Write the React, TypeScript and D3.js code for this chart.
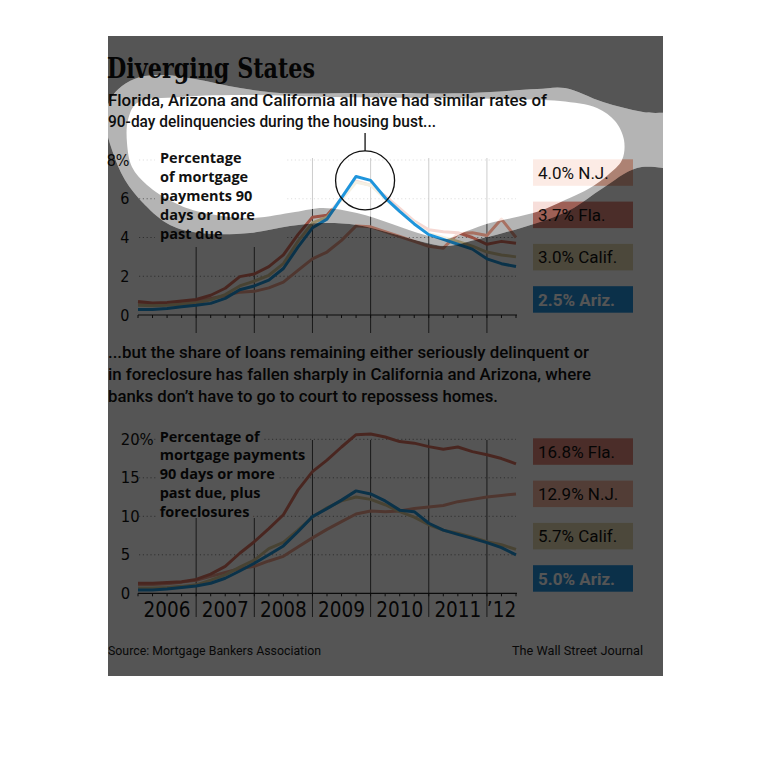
import React from "react";
import * as d3 from "d3";

// quarterly observations, Q1 2006 .. Q3 2012
const quarters = [
  "Q1 2006", "Q2 2006", "Q3 2006", "Q4 2006",
  "Q1 2007", "Q2 2007", "Q3 2007", "Q4 2007",
  "Q1 2008", "Q2 2008", "Q3 2008", "Q4 2008",
  "Q1 2009", "Q2 2009", "Q3 2009", "Q4 2009",
  "Q1 2010", "Q2 2010", "Q3 2010", "Q4 2010",
  "Q1 2011", "Q2 2011", "Q3 2011", "Q4 2011",
  "Q1 2012", "Q2 2012", "Q3 2012",
];

// 90 days or more past due (%)
const njTop = [0.6, 0.57, 0.6, 0.65, 0.72, 0.85, 1.0, 1.18, 1.22, 1.4, 1.7, 2.3, 2.9, 3.25, 3.85, 4.6, 4.55, 4.3, 4.05, 3.8, 3.55, 3.45, 4.2, 4.25, 4.1, 4.95, 4.0];
const flaTop = [0.7, 0.62, 0.64, 0.72, 0.8, 1.02, 1.38, 1.98, 2.12, 2.5, 3.1, 4.15, 5.05, 5.15, 6.0, 6.9, 6.7, 6.15, 5.5, 4.85, 4.4, 4.3, 4.25, 4.0, 3.65, 3.8, 3.7];
const calTop = [0.5, 0.48, 0.5, 0.55, 0.62, 0.78, 1.05, 1.5, 1.75, 2.05, 2.65, 3.8, 4.75, 5.05, 5.95, 6.85, 6.7, 6.0, 5.35, 4.75, 4.2, 4.0, 3.8, 3.55, 3.25, 3.1, 3.0];
const azTop = [0.29, 0.29, 0.34, 0.43, 0.5, 0.6, 0.86, 1.3, 1.5, 1.8, 2.4, 3.5, 4.5, 4.95, 6.05, 7.15, 6.95, 6.05, 5.35, 4.7, 4.15, 3.9, 3.65, 3.4, 2.9, 2.65, 2.5];

// 90 days or more past due plus foreclosures (%)
const flaBot = [1.3, 1.3, 1.4, 1.5, 1.8, 2.5, 3.5, 5.2, 6.7, 8.4, 10.2, 13.4, 15.8, 17.3, 19.0, 20.6, 20.7, 20.3, 19.7, 19.5, 19.05, 18.7, 19.0, 18.4, 18.0, 17.5, 16.8];
const njBot = [1.1, 1.15, 1.25, 1.45, 1.7, 2.2, 2.7, 3.2, 3.5, 4.2, 4.8, 6.0, 7.2, 8.3, 9.3, 10.3, 10.7, 10.6, 10.7, 11.0, 11.2, 11.4, 11.9, 12.2, 12.5, 12.7, 12.9];
const calBot = [0.65, 0.68, 0.75, 0.9, 1.1, 1.7, 2.4, 3.4, 4.3, 5.8, 6.6, 8.2, 9.9, 11.1, 12.0, 12.5, 12.2, 11.5, 10.6, 9.9, 8.9, 8.2, 7.8, 7.3, 6.7, 6.3, 5.7];
const azBot = [0.43, 0.43, 0.56, 0.74, 0.95, 1.3, 1.95, 2.9, 3.9, 5.0, 6.15, 8.0, 9.96, 11.0, 12.1, 13.3, 12.9, 12.0, 10.8, 10.6, 9.1, 8.2, 7.66, 7.14, 6.58, 5.93, 5.0];

const topTicks = [0, 2, 4, 6, 8];
const topTickLabels = ["0", "2", "4", "6", "8%"];
const botTicks = [0, 5, 10, 15, 20];
const botTickLabels = ["0", "5", "10", "15", "20%"];

const yearStarts = ["Q1 2007", "Q1 2008", "Q1 2009", "Q1 2010", "Q1 2011", "Q1 2012"];
const yearLabels = ["2006", "2007", "2008", "2009", "2010", "2011", "\u201912"];
const yearLabelAt = ["Q3 2006", "Q3 2007", "Q3 2008", "Q3 2009", "Q3 2010", "Q3 2011", "Q2 2012"];

const topLegend = ["4.0% N.J.", "3.7% Fla.", "3.0% Calif.", "2.5% Ariz."];
const botLegend = ["16.8% Fla.", "12.9% N.J.", "5.7% Calif.", "5.0% Ariz."];

const topNote = ["Percentage", "of mortgage", "payments 90", "days or more", "past due"];
const botNote = ["Percentage of", "mortgage payments", "90 days or more", "past due, plus", "foreclosures"];

const colors = {
  nj: "#eea18c",
  njBox: "#f5b8a3",
  fla: "#dc7462",
  flaBox: "#e0887b",
  cal: "#d9c999",
  calBox: "#e3d7b2",
  az: "#1f95dc",
  azBox: "#2290dc",
};

// freehand highlight drawn over the top of the graphic
const whiteShape: [number, number][] = [
  [137, 103], [180, 97], [250, 95], [330, 97], [420, 98], [500, 99], [560, 101], [597, 108],
  [615, 121], [624, 140], [622, 160], [608, 175], [590, 188], [565, 200], [540, 211], [512, 218],
  [490, 223], [467, 231], [447, 239], [425, 235], [392, 224], [357, 213], [323, 208], [295, 212],
  [250, 218], [200, 212], [173, 202], [147, 185], [132, 167], [127, 143], [128, 120],
];
const haloShape: [number, number][] = [
  [110, 100], [122, 86], [140, 77], [165, 75], [195, 79], [240, 88], [280, 93], [360, 93],
  [470, 93], [537, 89], [565, 88], [603, 102], [643, 112], [690, 118], [690, 165], [637, 168],
  [603, 188], [570, 210], [537, 223], [503, 233], [475, 240], [447, 246], [423, 242], [390, 233],
  [357, 225], [323, 223], [290, 226], [250, 233], [200, 233], [170, 225], [145, 205], [125, 180],
  [112, 150], [106, 125],
];

const sans = "Roboto, 'Noto Sans', sans-serif";
const narrow = "'Liberation Sans Narrow', 'DejaVu Sans Condensed', Roboto, sans-serif";
const bold = "'Open Sans', 'Noto Sans', sans-serif";

const App = () => {
  const panel = { x: 108, y: 36, w: 555, h: 640 };
  const x = d3.scalePoint<string>().domain(quarters).range([138, 516]);
  const yTop = d3.scaleLinear().domain([0, 8]).range([315, 160]);
  const yBot = d3.scaleLinear().domain([0, 20]).range([593.3, 439.3]);

  const lineOf = (y: d3.ScaleLinear<number, number>) =>
    d3.line<number>().x((_, i) => x(quarters[i]) as number).y((d) => y(d));

  const blob = d3.line().curve(d3.curveCatmullRomClosed.alpha(0.5));
  const whitePath = blob(whiteShape) as string;
  const haloPath = blob(haloShape) as string;
  const rectPath = `M${panel.x},${panel.y}H${panel.x + panel.w}V${panel.y + panel.h}H${panel.x}Z`;

  const x1 = 516;

  const topSeries = [
    { v: njTop, c: colors.nj },
    { v: flaTop, c: colors.fla },
    { v: calTop, c: colors.cal },
  ];
  const botSeries = [
    { v: njBot, c: colors.nj },
    { v: calBot, c: colors.cal },
    { v: flaBot, c: colors.fla },
    { v: azBot, c: colors.az },
  ];
  const topBoxes = [colors.njBox, colors.flaBox, colors.calBox, colors.azBox];
  const botBoxes = [colors.flaBox, colors.njBox, colors.calBox, colors.azBox];

  const axis = (y: d3.ScaleLinear<number, number>, tall: number, short: number, bottom: number) => (
    <g>
      {yearStarts.map((q, i) => (
        <line key={q} x1={x(q)} x2={x(q)} y1={i < 2 ? short : tall} y2={bottom}
          stroke="#4a4a4a" strokeWidth={1} />
      ))}
      <line x1={138} x2={x1 + 1} y1={y(0)} y2={y(0)} stroke="#222" strokeWidth={1.2} />
      {quarters.map((q) => (
        <line key={q} x1={x(q)} x2={x(q)} y1={y(0)} y2={y(0) + 3} stroke="#222" strokeWidth={1} />
      ))}
    </g>
  );

  const legend = (labels: string[], fills: string[], top: number) =>
    labels.map((t, i) => (
      <rect key={t} x={533} y={top + i * 42.3} width={100} height={26.5} fill={fills[i]} />
    ));

  const legendText = (labels: string[], top: number) =>
    labels.map((t, i) => {
      const isAz = i === 3;
      return (
        <text key={t} x={538} y={top + i * 42.3 + 19.5} fontFamily={sans} fontSize={17}
          fontWeight={isAz ? 700 : 400} fill={isAz ? "#fff" : "#111"}>
          {t}
        </text>
      );
    });

  const peak = 15;
  const cx = (x(quarters[peak]) as number) + 9;
  const cy = yTop(azTop[peak]) + 4;
  const r = 29.5;

  return (
    <svg width={770} height={770} style={{ position: "absolute", left: 0, top: 0 }}>
      <rect x={0} y={0} width={770} height={770} fill="#fff" />
      <rect x={panel.x} y={panel.y} width={panel.w} height={panel.h} fill="#fff" />

      {/* top chart */}
      {topTicks.slice(1).map((t) => (
        <line key={t} x1={139} x2={x1} y1={yTop(t)} y2={yTop(t)} stroke="#8c8c8c"
          strokeWidth={1} strokeDasharray="1.2 2.6" />
      ))}
      <rect x={155} y={147} width={130} height={99} fill="#fff" />
      {axis(yTop, 158, 247, 333)}
      {topSeries.map((s, i) => (
        <path key={i} d={lineOf(yTop)(s.v) as string} fill="none" stroke={s.c}
          strokeWidth={3} strokeLinejoin="round" />
      ))}
      {legend(topLegend, topBoxes, 159.3)}

      {/* bottom chart */}
      {botTicks.slice(1).map((t) => (
        <line key={t} x1={139} x2={x1} y1={yBot(t)} y2={yBot(t)} stroke="#8c8c8c"
          strokeWidth={1} strokeDasharray="1.2 2.6" />
      ))}
      {botNote.map((t, i) => (
        <text key={t} x={159.7} y={441.7 + i * 18.75} fontFamily={bold} fontSize={14.5}
          fontWeight={700} fill="#fff" stroke="#fff" strokeWidth={9} strokeLinejoin="round">
          {t}
        </text>
      ))}
      {axis(yBot, 440, 518, 617)}
      {botSeries.map((s, i) => (
        <path key={i} d={lineOf(yBot)(s.v) as string} fill="none" stroke={s.c}
          strokeWidth={3} strokeLinejoin="round" />
      ))}
      {legend(botLegend, botBoxes, 438.3)}

      {/* lightened highlight area */}
      <path d={whitePath} fill="#fff" opacity={0.72} />

      {/* highlighted Arizona line */}
      <path d={lineOf(yTop)(azTop) as string} fill="none" stroke={colors.az}
        strokeWidth={3} strokeLinejoin="round" />

      {/* texts */}
      <text x={107} y={78} fontFamily="'DejaVu Serif', serif" fontWeight={700} fontSize={27}
        fontStretch="condensed" textLength={208} lengthAdjust="spacingAndGlyphs" fill="#111">
        Diverging States
      </text>
      <text x={108} y={106} fontFamily={sans} fontWeight={500} fontSize={16.5} fill="#111"
        textLength={439} lengthAdjust="spacingAndGlyphs">
        Florida, Arizona and California all have had similar rates of
      </text>
      <text x={108} y={127} fontFamily={sans} fontWeight={500} fontSize={16.5} fill="#111"
        textLength={328} lengthAdjust="spacingAndGlyphs">
        90-day delinquencies during the housing bust...
      </text>
      {topNote.map((t, i) => (
        <text key={t} x={160} y={163.3 + i * 18.8} fontFamily={bold} fontSize={14.5}
          fontWeight={700} fill="#111">
          {t}
        </text>
      ))}
      {topTicks.map((t, i) => (
        <text key={t} x={129.5} y={yTop(t) + 5.5} textAnchor="end" fontFamily={narrow}
          fontSize={16} fill="#111">
          {topTickLabels[i]}
        </text>
      ))}
      {legendText(topLegend, 159.3)}

      <text x={108} y={358.3} fontFamily={sans} fontWeight={500} fontSize={17} fill="#111"
        textLength={481} lengthAdjust="spacingAndGlyphs">
        ...but the share of loans remaining either seriously delinquent or
      </text>
      <text x={108} y={380.3} fontFamily={sans} fontWeight={500} fontSize={17} fill="#111"
        textLength={483} lengthAdjust="spacingAndGlyphs">
        in foreclosure has fallen sharply in California and Arizona, where
      </text>
      <text x={108} y={401.7} fontFamily={sans} fontWeight={500} fontSize={17} fill="#111"
        textLength={390} lengthAdjust="spacingAndGlyphs">
        banks don{"\u2019"}t have to go to court to repossess homes.
      </text>
      {botNote.map((t, i) => (
        <text key={t} x={159.7} y={441.7 + i * 18.75} fontFamily={bold} fontSize={14.5}
          fontWeight={700} fill="#111">
          {t}
        </text>
      ))}
      {botTicks.map((t, i) => (
        <text key={t} x={120.7} y={yBot(t) + 5.5} fontFamily={narrow} fontSize={16.5} fill="#111">
          {botTickLabels[i]}
        </text>
      ))}
      {yearLabels.map((t, i) => (
        <text key={t} x={x(yearLabelAt[i])} y={617} textAnchor="middle" fontFamily={narrow}
          fontSize={20.5} fill="#111">
          {t}
        </text>
      ))}
      {legendText(botLegend, 438.3)}

      <text x={108} y={655} fontFamily={sans} fontSize={13} fill="#1a1a1a" textLength={213}
        lengthAdjust="spacingAndGlyphs">
        Source: Mortgage Bankers Association
      </text>
      <text x={643} y={655} textAnchor="end" fontFamily={sans} fontSize={13} fill="#1a1a1a"
        textLength={131} lengthAdjust="spacingAndGlyphs">
        The Wall Street Journal
      </text>

      {/* annotation */}
      <circle cx={cx} cy={cy} r={r} fill="none" stroke="#111" strokeWidth={1.3} />
      <line x1={cx} x2={cx} y1={cy - r} y2={133} stroke="#111" strokeWidth={1.3} />

      {/* dimming outside the highlight */}
      <clipPath id="panelClip">
        <rect x={panel.x} y={panel.y} width={panel.w} height={panel.h} />
      </clipPath>
      <g clipPath="url(#panelClip)">
        <path d={rectPath + haloPath} fill="#000" fillRule="evenodd" opacity={0.667} />
        <path d={haloPath + whitePath} fill="#000" fillRule="evenodd" opacity={0.294} />
      </g>
    </svg>
  );
};

export default App;
